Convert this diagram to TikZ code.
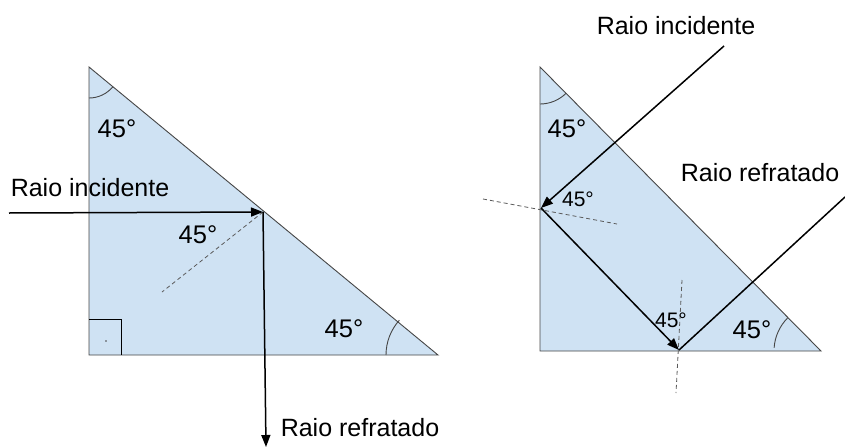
\documentclass[tikz,border=0pt]{standalone}
\usepackage{fontspec}
\setmainfont{Liberation Sans}
\usepackage{tikz}
\usetikzlibrary{arrows.meta}
\definecolor{prfill}{RGB}{207,226,243}
\definecolor{predge}{RGB}{70,70,70}
\definecolor{prnormal}{RGB}{90,90,90}
\tikzset{
  prism/.style={draw=predge, line width=0.9pt, fill=prfill},
  prarc/.style={draw=predge, line width=0.9pt},
  prray/.style={-{Triangle[length=12pt,width=9pt]}, line width=1.5pt, draw=black},
  prline/.style={line width=1.5pt, draw=black},
  prnormal/.style={draw=prnormal, dashed, dash pattern=on 4pt off 3pt, line width=0.8pt},
  prlabel/.style={inner sep=0pt, font=\fontsize{25}{29}\selectfont},
  prangle/.style={inner sep=0pt, font=\fontsize{25.5}{30}\selectfont},
  prsmall/.style={inner sep=0pt, font=\fontsize{21}{25}\selectfont}
}

\begin{document}
\begin{tikzpicture}[x=1pt, y=-1pt]
  \useasboundingbox (0,0) rectangle (845,447);
  % left prism
  \coordinate (ltop) at (89,67);
  \coordinate (lcorner) at (89,355);
  \coordinate (lright) at (438,355);
  \draw[prism] (ltop) -- (lcorner) -- (lright) -- cycle;
  \draw[prarc] (ltop) ++(90:31) arc[start angle=90, end angle=39.5, radius=31];
  \draw[prarc] (lright) ++(180:52) arc[start angle=180, end angle=222, radius=52];
  \draw[line width=0.9pt] (89,319) -- (121,319) -- (121,355);
  \fill[predge] (106,341) circle (0.8);
  % left rays
  \coordinate (lsrc) at (9,213);
  \coordinate (lhit) at (263,212);
  \coordinate (lout) at (266,447);
  \coordinate (lnorm) at (162,292);
  \draw[prnormal] (lhit) -- (lnorm);
  \draw[prray] (lsrc) -- (lhit);
  \draw[prray] (lhit) -- (lout);
  \node[prlabel] (lincid) at (90,188) {Raio incidente};
  \node[prlabel] (lrefr) at (360,428) {Raio refratado};
  \node[prangle] (ltopang) at (117,129) {45°};
  \node[prangle] (lhitang) at (198,235) {45°};
  \node[prangle] (lbotang) at (344,329) {45°};
  % right prism
  \coordinate (rtop) at (540,67);
  \coordinate (rcorner) at (540,351);
  \coordinate (rright) at (821,351);
  \draw[prism] (rtop) -- (rcorner) -- (rright) -- cycle;
  \draw[prarc] (rtop) ++(90:37) arc[start angle=90, end angle=45.3, radius=37];
  \draw[prarc] (rright) ++(184:47) arc[start angle=184, end angle=225, radius=47];
  % right rays
  \coordinate (rsrc) at (724,46);
  \coordinate (rhit) at (541,208);
  \coordinate (rbot) at (679,350);
  \coordinate (rout) at (845,197);
  \draw[prnormal] (483,199) -- (617,224);
  \draw[prnormal] (682,280) -- (676,393);
  \draw[prray] (rsrc) -- (rhit);
  \draw[prray] (rhit) -- (rbot);
  \draw[prline] (rbot) -- (rout);
  \node[prlabel] (rincid) at (676,26) {Raio incidente};
  \node[prlabel] (rrefr) at (760,173) {Raio refratado};
  \node[prangle] (rtopang) at (567,129) {45°};
  \node[prsmall] (rhitang) at (578,199) {45°};
  \node[prsmall] (rbotang2) at (671,320) {45°};
  \node[prangle] (rbotang) at (752,330) {45°};
\end{tikzpicture}
\end{document}
